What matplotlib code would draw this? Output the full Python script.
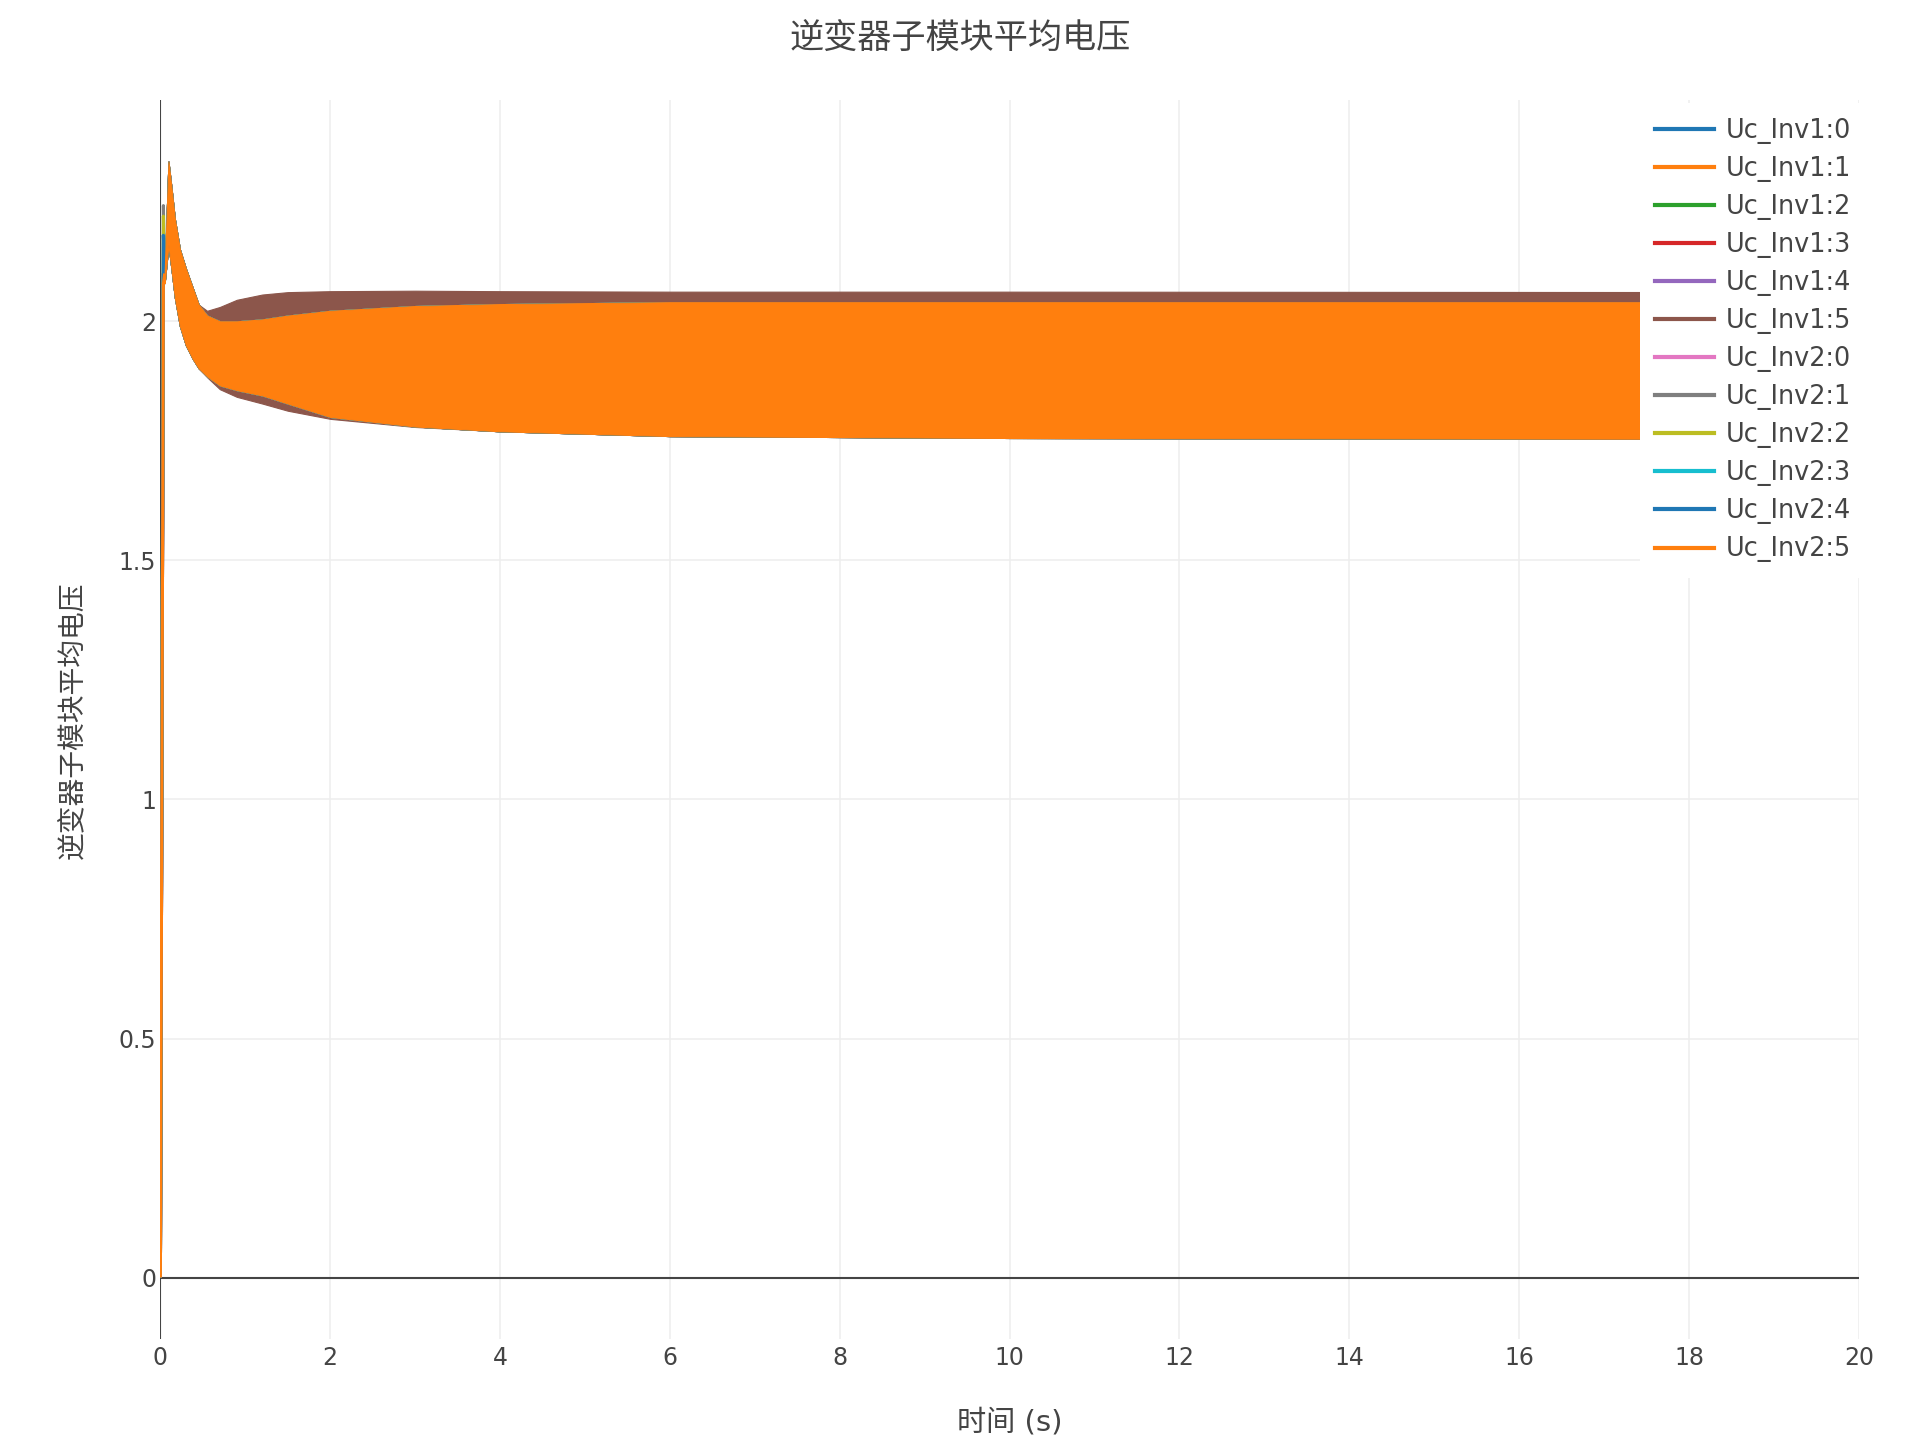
import matplotlib

matplotlib.use("Agg")
import matplotlib.pyplot as plt
from matplotlib.lines import Line2D

plt.rcParams["font.family"] = ["DejaVu Sans", "Noto Sans CJK SC"]

# series in legend order (drawn in this order, last on top)
series_names = [
    "Uc_Inv1:0", "Uc_Inv1:1", "Uc_Inv1:2", "Uc_Inv1:3", "Uc_Inv1:4", "Uc_Inv1:5",
    "Uc_Inv2:0", "Uc_Inv2:1", "Uc_Inv2:2", "Uc_Inv2:3", "Uc_Inv2:4", "Uc_Inv2:5",
]
series_colors = [
    "#1f77b4", "#ff7f0e", "#2ca02c", "#d62728", "#9467bd", "#8c564b",
    "#e377c2", "#7f7f7f", "#bcbd22", "#17becf", "#1f77b4", "#ff7f0e",
]

# start-up: each module charges from 0 to a first peak at ~0.035 s
rise_t = [0.0, 0.035]
rise_peak = [2.18, 2.08, 2.10, 2.10, 2.10, 2.10, 2.10, 2.242, 2.22, 2.10, 2.18, 2.078]

# ripple envelope (max / min of the fast oscillation)
t_env = [0.05, 0.095, 0.13, 0.17, 0.23, 0.3, 0.38, 0.45, 0.55, 0.7, 0.9, 1.2, 1.5,
         2.0, 3.0, 4.0, 6.0, 10.0, 20.0]
band_hi = [2.10, 2.334, 2.28, 2.214, 2.15, 2.11, 2.07, 2.035, 2.012, 2.0, 2.0, 2.004, 2.012,
           2.022, 2.032, 2.036, 2.040, 2.040, 2.040]
band_lo = [2.08, 2.16, 2.11, 2.05, 1.99, 1.95, 1.922, 1.902, 1.885, 1.866, 1.856, 1.845, 1.828,
           1.800, 1.780, 1.770, 1.760, 1.756, 1.754]
# Uc_Inv1:5 runs a bit wider than the others
inv1_5_hi = [2.10, 2.334, 2.28, 2.214, 2.15, 2.11, 2.07, 2.035, 2.022, 2.03, 2.045, 2.056, 2.061,
             2.063, 2.064, 2.063, 2.062, 2.062, 2.061]
inv1_5_lo = [2.08, 2.16, 2.11, 2.05, 1.99, 1.95, 1.922, 1.902, 1.883, 1.858, 1.842, 1.828, 1.813,
             1.796, 1.779, 1.770, 1.760, 1.756, 1.754]

x_ticks = [0, 2, 4, 6, 8, 10, 12, 14, 16, 18, 20]
y_ticks = [0, 0.5, 1, 1.5, 2]

TXT = "#444444"
W, H = 1920, 1440

fig = plt.figure(figsize=(W / 100, H / 100), dpi=100)
ax = fig.add_axes([160.4 / W, 1 - 1339.3 / H, (1858.8 - 160.4) / W, (1339.3 - 100.4) / H])

for i, (name, c) in enumerate(zip(series_names, series_colors)):
    hi = inv1_5_hi if name == "Uc_Inv1:5" else band_hi
    lo = inv1_5_lo if name == "Uc_Inv1:5" else band_lo
    ax.fill_between(t_env, lo, hi, color=c, lw=0.8, zorder=3 + i * 0.01)
    ax.plot(rise_t + [t_env[0]], [0.0, rise_peak[i], hi[0]], color=c, lw=2.2,
            zorder=3 + i * 0.01, solid_capstyle="butt")

ax.set_xlim(0, 20)
ax.set_ylim(-0.129, 2.462)
ax.set_xticks(x_ticks)
ax.set_yticks(y_ticks)
ax.set_xticklabels([f"{v:g}" for v in x_ticks])
ax.set_yticklabels([f"{v:g}" for v in y_ticks])
ax.tick_params(length=0, labelsize=17, labelcolor=TXT)
ax.tick_params(axis="x", pad=5)
ax.tick_params(axis="y", pad=3)
ax.grid(True, color="#eeeeee", lw=1.1, zorder=0)
ax.set_axisbelow(True)
for s in ax.spines.values():
    s.set_visible(False)
ax.axhline(0, color=TXT, lw=1.5, zorder=2)
ax.axvline(0, color=TXT, lw=1.5, zorder=2)

# legend sits inside the plot on an opaque white box, hiding the data behind it
handles = [Line2D([0], [0], color=c, lw=3) for c in series_colors]
leg = ax.legend(
    handles, series_names,
    loc="upper right", bbox_to_anchor=(1866 / W, 1 - 103 / H),
    bbox_transform=fig.transFigure,
    fontsize=18.4, frameon=True, facecolor="white", edgecolor="none", framealpha=1,
    fancybox=False, handlelength=2.3, handletextpad=0.45, labelspacing=0.47,
    borderpad=0.6, borderaxespad=0,
)
leg.set_zorder(10)
for t in leg.get_texts():
    t.set_color(TXT)

fig.text(0.5, 1 - 39 / H, "逆变器子模块平均电压", ha="center", va="center",
         fontsize=24.6, color=TXT)
fig.text(1009.6 / W, 1 - 1423 / H, "时间 (s)", ha="center", va="center",
         fontsize=21, color=TXT)
fig.text(73 / W, 0.5, "逆变器子模块平均电压", ha="center", va="center",
         rotation=90, fontsize=20, color=TXT)

fig.savefig("out.png", dpi=100)
